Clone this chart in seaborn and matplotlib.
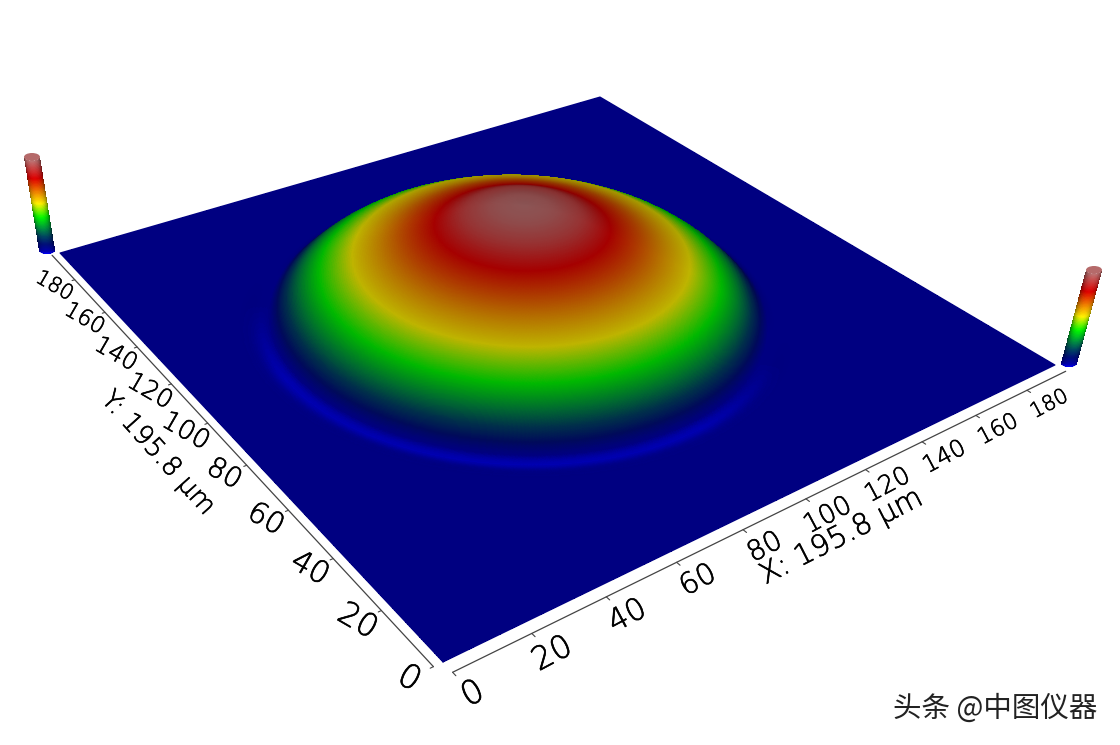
import numpy as np
import pandas as pd
import matplotlib
matplotlib.use("Agg")
import matplotlib.pyplot as plt
import matplotlib.patheffects as pe
from matplotlib.colors import LinearSegmentedColormap
from matplotlib.patches import Ellipse
import seaborn as sns

# Values
scan_size = 195.8
tick_values = [0, 20, 40, 60, 80, 100, 120, 140, 160, 180]
x_title = "X: 195.8 µm"
y_title = "Y: 195.8 µm"
watermark = "头条 @中图仪器"

# dome profile: distance from the dome centre (um) and relative height
dome_center = [93.6, 102.4]
dome_radius = [0, 8, 16, 23.3, 31, 38, 45.6, 54.5, 60, 65, 67, 69, 71.5, 74.5, 90, 300]
dome_height = [1.0, 0.98, 0.92, 0.81, 0.72, 0.63, 0.54, 0.39, 0.27, 0.13, 0.06, 0.0, 0.0, 0.03, 0.03, 0.03]
plane_level = 0.03

# colour scale stops
scale_pos = [0.0, 0.03, 0.10, 0.18, 0.27, 0.39, 0.54, 0.81, 1.0]
scale_rgb = ["#0000b4", "#000080", "#000a5a", "#00304a", "#006a30", "#00b800", "#beb400", "#a50000", "#8c5555"]

# Image corners of the scanned plane: (0,0), (max,0), (max,max), (0,max)
corners = np.array([[443, 662], [1055, 365], [600, 97], [60, 253]], dtype=float)
vanish = np.array([419.0, 2787.0])
dome_rise_px = 98.0

sns.set_theme(style="white")
plt.rcParams['font.family'] = ['DejaVu Sans']

cmap = LinearSegmentedColormap.from_list("scale", list(zip(scale_pos, sns.color_palette(scale_rgb))), N=512)


# Homography from the unit square to the picture
def make_homography(pts):
    A, b = [], []
    for (u, v), (x, y) in zip([(0, 0), (1, 0), (1, 1), (0, 1)], pts):
        A.append([u, v, 1, 0, 0, 0, -u * x, -v * x])
        A.append([0, 0, 0, u, v, 1, -u * y, -v * y])
        b += [x, y]
    h = np.linalg.solve(np.array(A), np.array(b))
    return np.append(h, 1).reshape(3, 3)


H = make_homography(corners)
w_mid = H[2, 0] * 0.5 + H[2, 1] * 0.5 + H[2, 2]
k_up = dome_rise_px / (2787.0 - 310.0) * w_mid


def project(u, v, h=0.0):
    px = H[0, 0] * u + H[0, 1] * v + H[0, 2] - k_up * h * vanish[0]
    py = H[1, 0] * u + H[1, 1] * v + H[1, 2] - k_up * h * vanish[1]
    pw = H[2, 0] * u + H[2, 1] * v + H[2, 2] - k_up * h
    return px / pw, py / pw


fig = plt.figure(figsize=(11.2, 7.45), dpi=100)
ax = fig.add_axes([0, 0, 1, 1])
ax.set_xlim(0, 1120)
ax.set_ylim(745, 0)
ax.axis("off")

# Dense radial profile, lightly smoothed
r_dense = np.arange(-20, 300, 0.25)
h_dense = np.interp(np.abs(r_dense), dome_radius, dome_height)
kernel = np.exp(-0.5 * (np.arange(-16, 17) * 0.25 / 1.3) ** 2)
h_dense = np.convolve(h_dense, kernel / kernel.sum(), mode="same")
h_dense[-40:] = dome_height[-1]
slope_dense = np.gradient(h_dense, 0.25)

# Surface, back corner first so the front of the dome paints over the back
n_grid = 800
gx = np.linspace(scan_size, 0, n_grid)
gy = np.linspace(scan_size, 0, n_grid)
GX, GY = np.meshgrid(gx, gy)
dx = GX - dome_center[0]
dy = GY - dome_center[1]
R = np.hypot(dx, dy)
Z = np.interp(R, r_dense, h_dense)
PX, PY = project(GX / scan_size, GY / scan_size, Z - plane_level)

mx = 0.25 * (dx[:-1, :-1] + dx[1:, :-1] + dx[:-1, 1:] + dx[1:, 1:])
my = 0.25 * (dy[:-1, :-1] + dy[1:, :-1] + dy[:-1, 1:] + dy[1:, 1:])
mr = np.hypot(mx, my) + 1e-6
mz = np.interp(mr, r_dense, h_dense)
ms = np.interp(mr, r_dense, slope_dense)
toward_front = -(mx + my) / (mr * np.sqrt(2))
shade = np.clip(1 - 13 * ms * toward_front, 0, 1)
# the groove round the dome only catches the light on the front side
groove = mz < plane_level
mz[groove] = plane_level - (plane_level - mz[groove]) * np.clip((toward_front[groove] - 0.2) * 2.2, 0, 1)
face = cmap(mz)[..., :3] * shade[..., None]
ax.pcolormesh(PX, PY, face, shading="flat", antialiased=False, linewidth=0, rasterized=True, zorder=1)

# smooth the stepped outline of the plane
edge_u = np.array([0, 1, 1, 0, 0.0])
edge_v = np.array([0, 0, 1, 1, 0.0])
ex, ey = project(edge_u, edge_v)
ax.plot(ex, ey, color=cmap(plane_level), lw=0.8, zorder=1.5)

# Axis lines and ticks
line_color = "#444444"
ux = np.array([0, 1.0])
xl = project(ux, np.full(2, -0.018))
yl = project(np.full(2, -0.012), ux)
sns.lineplot(data=pd.DataFrame({"px": xl[0], "py": xl[1]}), x="px", y="py", ax=ax, sort=False, estimator=None,
             color=line_color, lw=0.9, legend=False)
sns.lineplot(data=pd.DataFrame({"px": yl[0], "py": yl[1]}), x="px", y="py", ax=ax, sort=False, estimator=None,
             color=line_color, lw=0.9, legend=False)
ax.set_xlim(0, 1120)
ax.set_ylim(745, 0)
ax.axis("off")

# thin black lettering: extra-light face with a hair of stroke
ink = [pe.withStroke(linewidth=0.45, foreground="black")]
sizes = np.linspace(24, 15, len(tick_values))
for val, fs in zip(tick_values, sizes):
    t = val / scan_size
    x0, y0 = project(t, -0.018)
    x1, y1 = project(t, -0.024)
    ax.plot([x0, x1], [y0, y1], color=line_color, lw=0.8)
    x0, y0 = project(-0.012, t)
    x1, y1 = project(-0.016, t)
    ax.plot([x0, x1], [y0, y1], color=line_color, lw=0.8)
    lx, ly = project(t, -0.055)
    ax.text(lx, ly, str(val), rotation=28, ha="center", va="center", rotation_mode="anchor",
            fontsize=fs, color="black", fontweight="light", path_effects=ink, zorder=5)
    lx, ly = project(-0.042, t)
    ax.text(lx, ly, str(val), rotation=-30, ha="center", va="center", rotation_mode="anchor",
            fontsize=fs, color="black", fontweight="light", path_effects=ink, zorder=5)

ax.text(841, 537, x_title, rotation=27, ha="center", va="center", rotation_mode="anchor", fontsize=21,
        color="black", fontweight="light", path_effects=ink)
ax.text(158, 453, y_title, rotation=-48, ha="center", va="center", rotation_mode="anchor", fontsize=19,
        color="black", fontweight="light", path_effects=ink)


# Colour scale cylinders at the two far corners
def draw_cylinder(base, top, width=16, ry=4):
    t = np.linspace(0, 1, 160)
    s = np.linspace(-1, 1, 40)
    S, T = np.meshgrid(s, t)
    bulge = np.sqrt(1 - S ** 2)
    CX = base[0] + (top[0] - base[0]) * T + S * width / 2
    CY = base[1] + (top[1] - base[1]) * T + bulge * ry
    mid_t = 0.5 * (T[:-1, :-1] + T[1:, 1:])
    mid_s = 0.5 * (S[:-1, :-1] + S[1:, 1:])
    light = 0.6 + 0.75 * np.sqrt(1 - mid_s ** 2)
    rgb = np.clip(cmap(mid_t)[..., :3] * light[..., None], 0, 1)
    ax.pcolormesh(CX, CY, rgb, shading="flat", antialiased=False, linewidth=0, zorder=3)
    ax.add_patch(Ellipse(base, width, 2 * ry, color="#0000c0", zorder=2.5, lw=0))
    ax.add_patch(Ellipse(top, width, 2 * ry, color="#b56a6a", zorder=4, lw=0))


draw_cylinder((47, 250), (32, 157))
draw_cylinder((1069, 363), (1094, 270))

ax.text(995, 709, watermark, ha="center", va="center", fontsize=20.5, color="#222222",
        family=['Noto Sans CJK SC', 'DejaVu Sans'], zorder=6)

fig.savefig("out.png", dpi=100, facecolor="white")
